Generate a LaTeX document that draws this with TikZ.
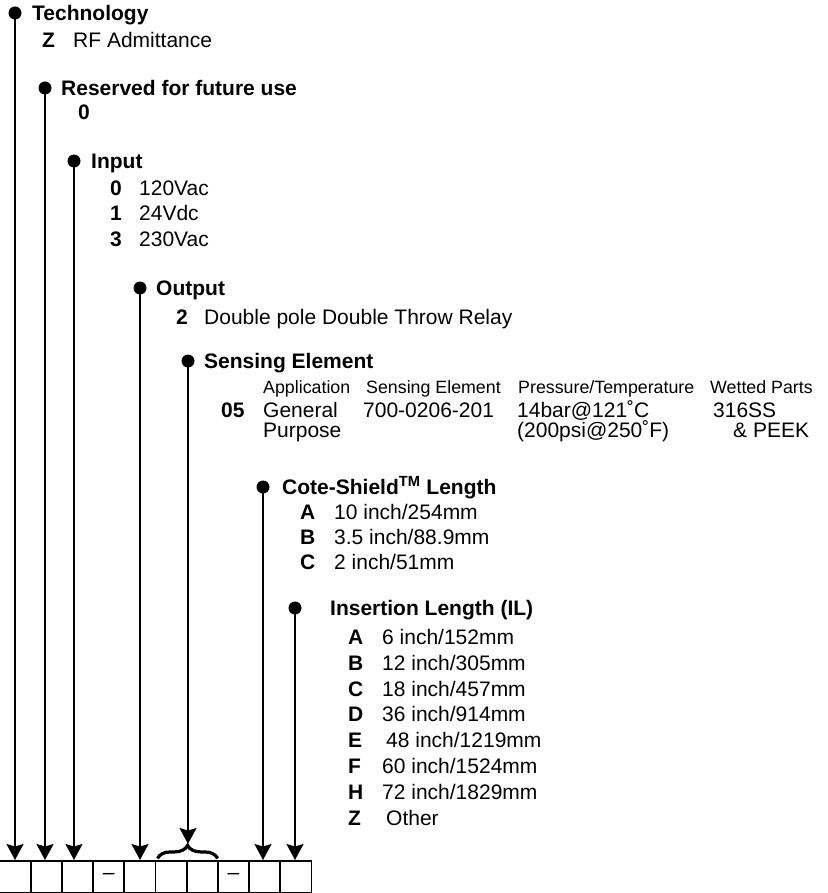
\documentclass[tikz,border=0pt]{standalone}
\usepackage{fontspec}
\setmainfont{Liberation Sans}
\usetikzlibrary{arrows.meta,decorations.pathreplacing}
\tikzset{
  dot/.style={circle,fill,inner sep=0pt,minimum size=13pt},
  hdr/.style={anchor=base west,inner sep=0pt,font=\fontsize{21}{25}\selectfont\bfseries},
  code/.style={anchor=base west,inner sep=0pt,font=\fontsize{21}{25}\selectfont\bfseries},
  itm/.style={anchor=base west,inner sep=0pt,font=\fontsize{21}{25}\selectfont},
  col/.style={anchor=base west,inner sep=0pt,font=\fontsize{17.8}{20}\selectfont},
  cell/.style={draw,line width=1.8pt,minimum width=31.2pt,minimum height=32pt,inner sep=0pt,anchor=north west,font=\fontsize{21}{25}\selectfont},
  arr/.style={-{Stealth[length=16pt,width=17pt,inset=2.5pt]},line width=1.8pt},
}
\begin{document}
\begin{tikzpicture}[x=1pt,y=-1pt]
 \useasboundingbox (0,0) rectangle (827,893);
 % code boxes
 \foreach \i/\t in {1/,2/,3/,4/–,5/,6/,7/,8/–,9/,10/} \node[cell] (c\i) at ({-1.5+31.2*(\i-1)},860){\t};
 % technology
 \node[dot] (d1) at (15,13){}; \node[hdr] (h1) at (32,20.5){Technology};
 \node[code] (z1) at (42,47.5){Z}; \node[itm] (zt1) at (73,47.5){RF Admittance};
 % reserved
 \node[dot] (d2) at (45,88){}; \node[hdr] (h2) at (61,95.5){Reserved for future use};
 \node[code] (r0) at (78,120){0};
 % input
 \node[dot] (d3) at (74,161){}; \node[hdr] (h3) at (91,168.5){Input};
 \foreach \y/\c/\t in {195.5/0/120Vac,221/1/24Vdc,246.5/3/230Vac}{\node[code] (in\c) at (110,\y){\c}; \node[itm] (int\c) at (139,\y){\t};}
 % output
 \node[dot] (d4) at (140,288){}; \node[hdr] (h4) at (156,295.5){Output};
 \node[code] (o2) at (176,324.5){2}; \node[itm] (ot2) at (204,324.5){Double pole Double Throw Relay};
 % sensing element table
 \node[dot] (d5) at (188,361){}; \node[hdr] (h5) at (204,368.5){Sensing Element};
 \node[col] (ca) at (263,393){Application}; \node[col] (cb) at (366,393){Sensing Element};
 \node[col] (cc) at (518,393){Pressure/Temperature}; \node[col] (cd) at (710,393){Wetted Parts};
 \node[code] (s05) at (221,417){05};
 \node[itm] (sa1) at (263,417){General}; \node[itm] (sa2) at (263,437){Purpose};
 \node[itm] (sb1) at (363,417){700-0206-201};
 \node[itm] (sc1) at (517,417){14bar@121˚C}; \node[itm] (sc2) at (517,437){(200psi@250˚F)};
 \node[itm] (sd1) at (713,417){316SS}; \node[itm] (sd2) at (733,437){\& PEEK};
 % cote-shield length
 \node[dot] (d6) at (263,487){}; \node[hdr] (h6) at (282,494.5){Cote-Shield\textsuperscript{TM} Length};
 \foreach \y/\c/\t in {519.5/A/{10 inch/254mm},544/B/{3.5 inch/88.9mm},569.5/C/{2 inch/51mm}}{\node[code] (cs\c) at (300,\y){\c}; \node[itm] (cst\c) at (334,\y){\t};}
 % insertion length
 \node[dot] (d7) at (295,608){}; \node[hdr] (h7) at (330,615.5){Insertion Length (IL)};
 \foreach \y/\c/\x/\t in {644.5/A/382/{6 inch/152mm},670.3/B/382/{12 inch/305mm},696.1/C/382/{18 inch/457mm},721.9/D/382/{36 inch/914mm},747.7/E/386/{48 inch/1219mm},773.5/F/382/{60 inch/1524mm},799.3/H/382/{72 inch/1829mm},825.1/Z/386/Other}{\node[code] (il\c) at (348,\y){\c}; \node[itm] (ilt\c) at (\x,\y){\t};}
 % leaders
 \draw[arr] (d1.center) -- (d1.center |- c1.north); \draw[arr] (d2.center) -- (d2.center |- c2.north);
 \draw[arr] (d3.center) -- (d3.center |- c3.north); \draw[arr] (d4.center) -- (d4.center |- c5.north);
 \draw[arr] (d6.center) -- (d6.center |- c9.north); \draw[arr] (d7.center) -- (d7.center |- c10.north);
 \draw[line width=3.2pt,decorate,decoration={brace,amplitude=13pt,raise=1.6pt}] ([xshift=3pt]c6.north west) -- ([xshift=-1pt]c7.north east);
 \coordinate (bt) at ([yshift=16pt]c6.north east);
 \draw[arr] (d5.center) -- (d5.center |- bt);
\end{tikzpicture}
\end{document}
